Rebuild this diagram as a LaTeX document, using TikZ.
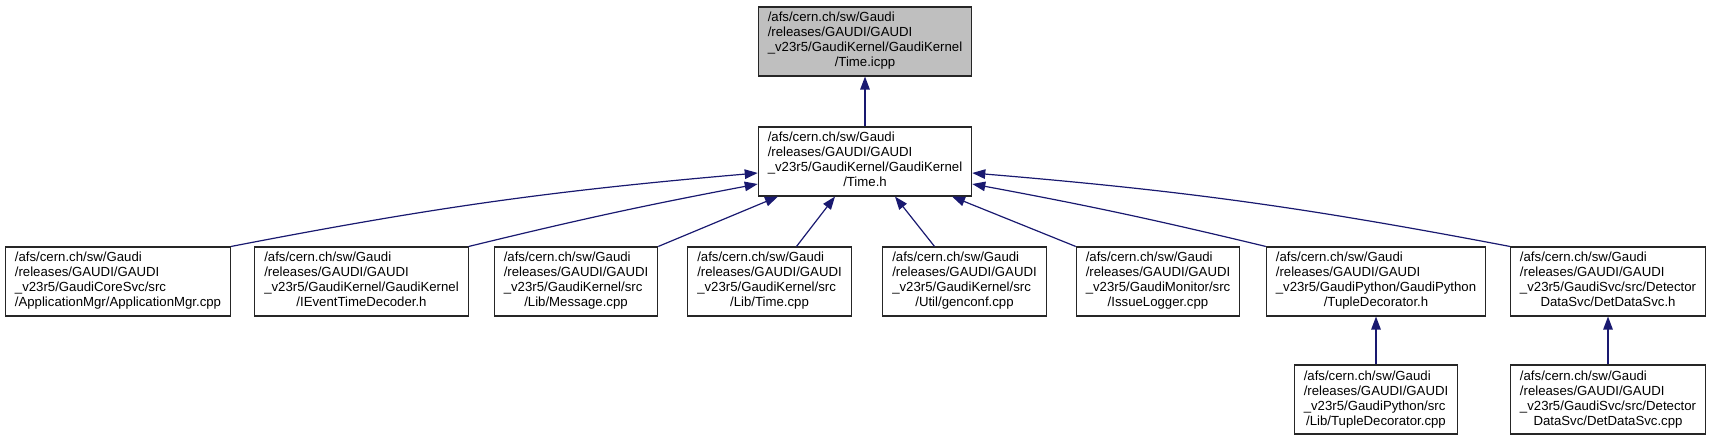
\documentclass[tikz,border=0pt]{standalone}
\usepackage{fontspec}
\setmainfont{Liberation Sans}
\usepackage{tikz}
\usetikzlibrary{positioning, arrows.meta}
\definecolor{edgeblue}{HTML}{191970}
\definecolor{rootgray}{HTML}{BFBFBF}
\newcommand{\filelabel}[4]{\fontsize{13.2}{15}\selectfont
  \begin{tabular}{@{}l@{}}#1\\#2\\#3\\\multicolumn{1}{@{}c@{}}{#4}\end{tabular}}

\begin{document}
\begin{tikzpicture}[x = 1pt, y = -1pt,
    file/.style = {draw = black!85, line width = 1.1pt, inner xsep = 9.5pt, inner ysep = 0pt, minimum height = 69pt},
    root/.style = {file, fill = rootgray},
    dep/.style = {draw = edgeblue, line width = 1.2pt, -{Triangle[length = 13pt, width = 9.5pt]}}]
    \useasboundingbox (0,0) rectangle (1712,443);
    \node[root] (0) at (865,41.5) {\filelabel{/afs/cern.ch/sw/Gaudi}{/releases/GAUDI/GAUDI}{\_v23r5/GaudiKernel/GaudiKernel}{/Time.icpp}};
    \node[file] (1) at (865,161.5) {\filelabel{/afs/cern.ch/sw/Gaudi}{/releases/GAUDI/GAUDI}{\_v23r5/GaudiKernel/GaudiKernel}{/Time.h}};
    % files that include Time.h
    \node[file] (2) at (118,281.5) {\filelabel{/afs/cern.ch/sw/Gaudi}{/releases/GAUDI/GAUDI}{\_v23r5/GaudiCoreSvc/src}{/ApplicationMgr/ApplicationMgr.cpp}};
    \node[file] (3) at (361.5,281.5) {\filelabel{/afs/cern.ch/sw/Gaudi}{/releases/GAUDI/GAUDI}{\_v23r5/GaudiKernel/GaudiKernel}{/IEventTimeDecoder.h}};
    \node[file] (4) at (576,281.5) {\filelabel{/afs/cern.ch/sw/Gaudi}{/releases/GAUDI/GAUDI}{\_v23r5/GaudiKernel/src}{/Lib/Message.cpp}};
    \node[file] (5) at (769.5,281.5) {\filelabel{/afs/cern.ch/sw/Gaudi}{/releases/GAUDI/GAUDI}{\_v23r5/GaudiKernel/src}{/Lib/Time.cpp}};
    \node[file] (6) at (964.5,281.5) {\filelabel{/afs/cern.ch/sw/Gaudi}{/releases/GAUDI/GAUDI}{\_v23r5/GaudiKernel/src}{/Util/genconf.cpp}};
    \node[file] (7) at (1158,281.5) {\filelabel{/afs/cern.ch/sw/Gaudi}{/releases/GAUDI/GAUDI}{\_v23r5/GaudiMonitor/src}{/IssueLogger.cpp}};
    \node[file] (8) at (1376,281.5) {\filelabel{/afs/cern.ch/sw/Gaudi}{/releases/GAUDI/GAUDI}{\_v23r5/GaudiPython/GaudiPython}{/TupleDecorator.h}};
    \node[file] (9) at (1608,281.5) {\filelabel{/afs/cern.ch/sw/Gaudi}{/releases/GAUDI/GAUDI}{\_v23r5/GaudiSvc/src/Detector}{DataSvc/DetDataSvc.h}};
    % second level
    \node[file] (10) at (1376,399.5) {\filelabel{/afs/cern.ch/sw/Gaudi}{/releases/GAUDI/GAUDI}{\_v23r5/GaudiPython/src}{/Lib/TupleDecorator.cpp}};
    \node[file] (11) at (1608,399.5) {\filelabel{/afs/cern.ch/sw/Gaudi}{/releases/GAUDI/GAUDI}{\_v23r5/GaudiSvc/src/Detector}{DataSvc/DetDataSvc.cpp}};
    \draw[dep] (1) -- (0);
    \draw[dep] (2.north east) to[bend left = 3] ([yshift = -11.5pt]1.west);
    \draw[dep] (3.north east) to[bend left = 1.5] ([yshift = -22.5pt]1.west);
    \draw[dep] (4.north east) -- ([xshift = -87pt]1.south);
    \draw[dep] ([xshift = 27pt]5.north) -- ([xshift = -30pt]1.south);
    \draw[dep] ([xshift = -30pt]6.north) -- ([xshift = 30pt]1.south);
    \draw[dep] (7.north west) -- ([xshift = 87pt]1.south);
    \draw[dep] (8.north west) to[bend right = 1.5] ([yshift = -22.5pt]1.east);
    \draw[dep] (9.north west) to[bend right = 3] ([yshift = -11.5pt]1.east);
    \draw[dep] (10) -- (8);
    \draw[dep] (11) -- (9);
\end{tikzpicture}
\end{document}
